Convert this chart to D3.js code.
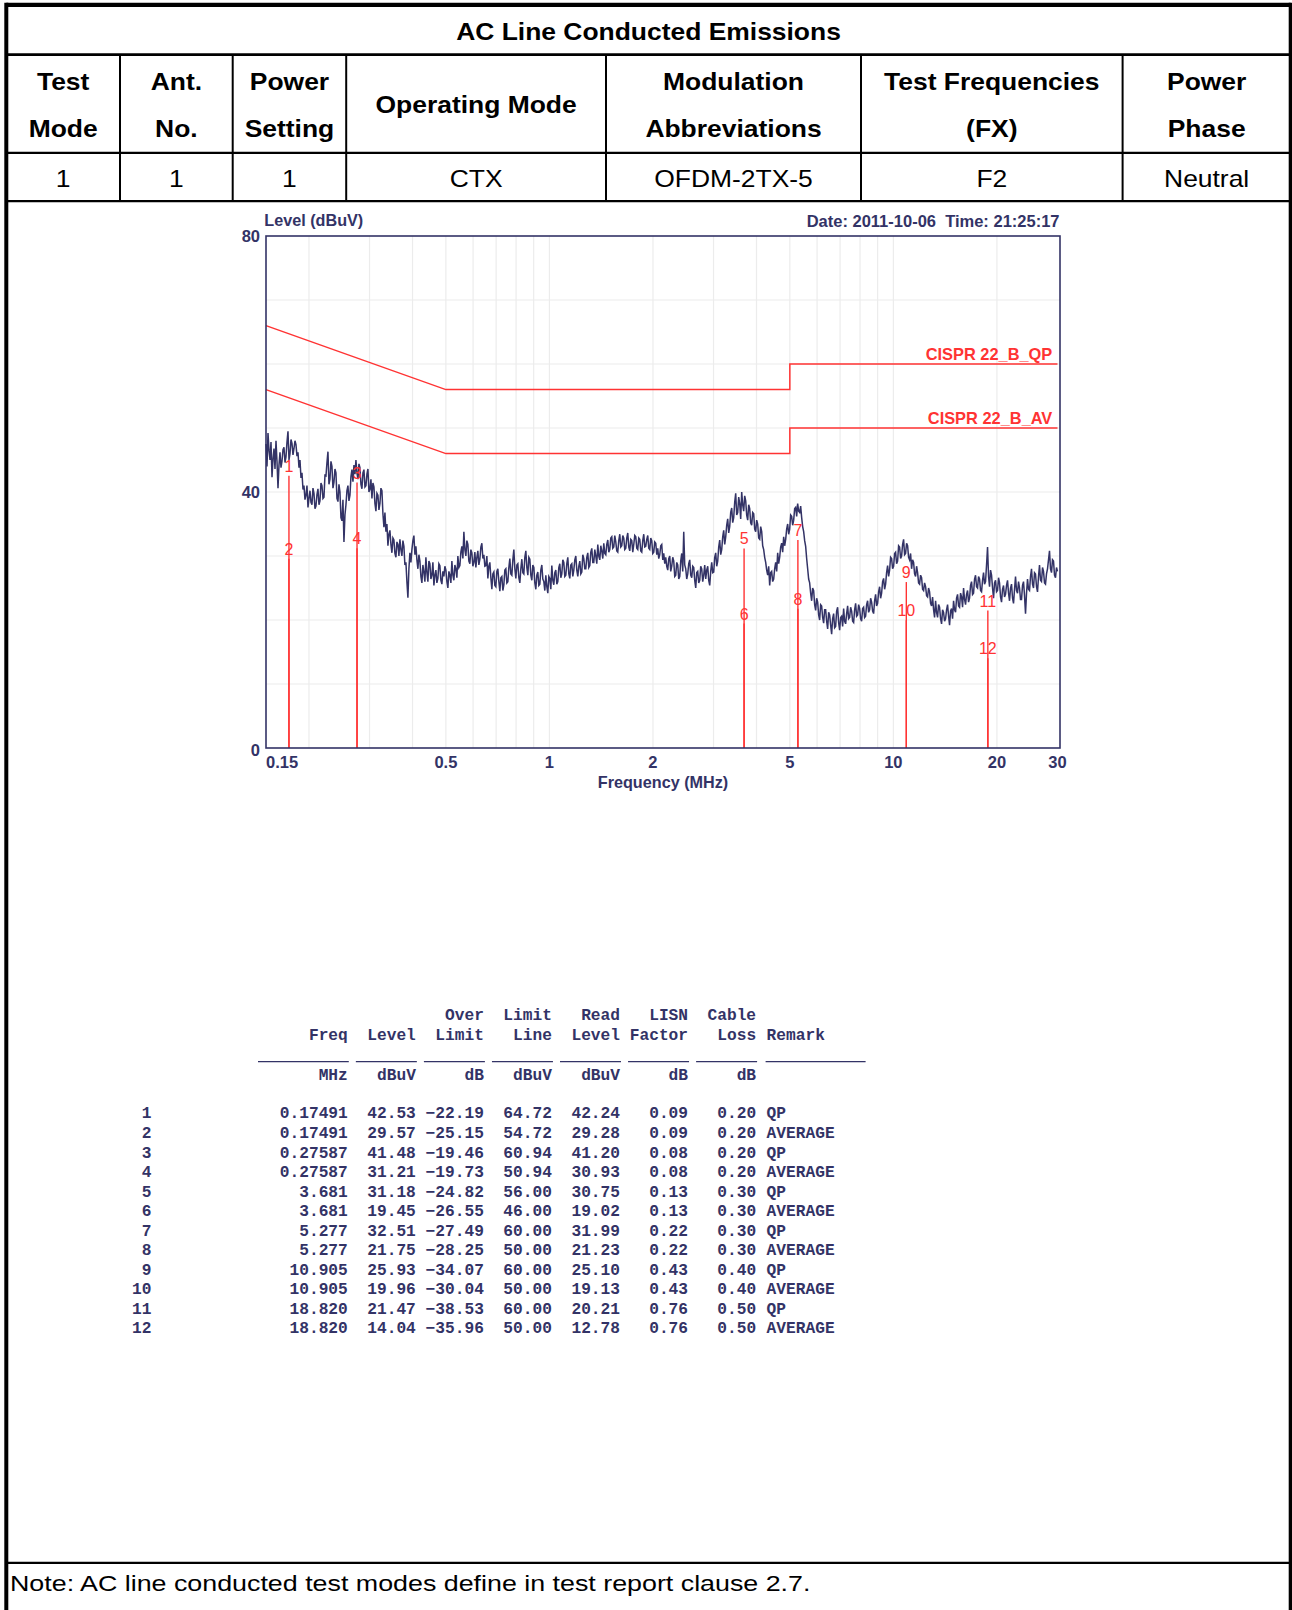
<!DOCTYPE html>
<html>
<head>
<meta charset="utf-8">
<script src="https://cdn.jsdelivr.net/npm/d3@7"></script>
<style>
  html, body { margin: 0; padding: 0; background: #fff; }
  svg { display: block; }
  .pre { white-space: pre; }
</style>
</head>
<body>
<svg id="page" width="1292" height="1610"></svg>
<script>
// ---------- report header ----------
const reportTitle = "AC Line Conducted Emissions";
const headerCols = [["Test", "Mode"], ["Ant.", "No."], ["Power", "Setting"], ["Operating Mode"],
                    ["Modulation", "Abbreviations"], ["Test Frequencies", "(FX)"], ["Power", "Phase"]];
const headerValues = ["1", "1", "1", "CTX", "OFDM-2TX-5", "F2", "Neutral"];
const noteText = "Note: AC line conducted test modes define in test report clause 2.7.";

// ---------- scan plot ----------
const sweepStartMHz = 0.15;
const sweepStopMHz = 30;
// measured level (dBuV) at each log-spaced sweep point
const traceLevels = [
  47.5, 44.0, 49.2, 46.5, 45.0, 47.8, 42.3, 45.2, 46.8, 43.6, 48.0, 44.8, 40.6, 44.2, 46.2, 43.8, 44.8, 46.6, 47.0, 44.6,
  45.5, 47.8, 49.5, 45.0, 46.0, 48.2, 47.6, 45.8, 46.8, 48.0, 47.4, 45.6, 46.2, 43.8, 45.0, 42.2, 43.0, 40.4, 41.0, 38.8,
  39.5, 41.0, 37.6, 39.0, 40.2, 38.4, 38.0, 40.6, 39.8, 37.4, 37.8, 39.6, 40.5, 38.0, 38.6, 41.4, 41.0, 39.0, 39.2, 42.6,
  42.5, 44.6, 46.3, 41.2, 42.0, 44.8, 44.0, 40.6, 41.5, 43.6, 43.0, 39.0, 38.5, 41.2, 40.0, 36.0, 35.5, 38.8, 32.2, 36.4,
  38.0, 40.2, 41.0, 38.6, 39.5, 42.4, 43.5, 41.6, 44.2, 42.8, 45.0, 43.0, 42.0, 44.4, 43.8, 41.2, 40.5, 43.0, 43.5, 40.8,
  41.0, 42.8, 43.6, 40.0, 40.4, 42.0, 39.0, 41.4, 40.8, 38.2, 37.0, 39.8, 39.5, 37.2, 38.2, 40.6, 40.2, 36.6, 34.5, 36.8,
  33.8, 35.0, 31.6, 33.4, 34.0, 31.8, 30.5, 32.8, 32.5, 30.4, 29.8, 32.2, 31.8, 30.0, 32.6, 31.0, 30.0, 32.4, 31.5, 28.6,
  29.0, 26.0, 23.5, 28.0, 30.5, 29.0, 31.0, 32.4, 33.2, 30.2, 31.5, 29.4, 28.0, 30.2, 29.2, 26.8, 25.8, 28.6, 27.5, 26.0,
  29.8, 27.4, 26.0, 29.2, 28.8, 26.4, 27.0, 29.0, 25.4, 27.0, 27.8, 25.8, 26.5, 28.8, 28.5, 26.2, 25.6, 27.6, 26.8, 28.4,
  27.8, 26.0, 25.0, 27.6, 27.0, 25.8, 29.2, 27.0, 26.2, 28.6, 28.0, 26.6, 30.0, 28.2, 28.5, 30.6, 31.5, 29.6, 33.8, 31.0,
  30.0, 32.4, 31.8, 29.2, 28.8, 31.0, 30.5, 28.4, 29.0, 30.6, 28.2, 29.8, 30.8, 28.6, 29.5, 31.4, 32.0, 29.6, 30.2, 28.4,
  28.5, 30.0, 26.5, 28.4, 29.0, 26.6, 24.8, 27.2, 27.5, 25.4, 25.2, 27.6, 28.0, 26.0, 24.5, 26.6, 26.8, 24.6, 25.5, 27.8,
  28.0, 25.8, 26.0, 28.2, 29.6, 27.2, 27.0, 29.4, 31.0, 28.0, 26.5, 28.6, 28.8, 26.6, 25.8, 28.0, 29.5, 27.4, 27.2, 29.8,
  30.8, 28.2, 27.0, 29.8, 29.5, 27.0, 26.2, 28.6, 28.2, 25.8, 24.8, 27.0, 27.5, 25.4, 25.6, 27.8, 28.6, 26.4, 26.0, 24.6,
  27.0, 25.2, 24.2, 26.8, 26.5, 24.8, 28.5, 26.2, 25.5, 27.4, 27.8, 25.6, 26.0, 28.2, 28.8, 26.6, 27.2, 29.4, 29.0, 26.8,
  27.0, 28.8, 29.8, 27.2, 26.5, 28.6, 28.8, 26.8, 27.8, 29.4, 30.0, 27.8, 26.8, 28.4, 29.2, 27.2, 27.5, 30.2, 29.6, 28.0,
  28.0, 29.8, 30.5, 28.2, 28.5, 30.6, 31.2, 29.0, 29.0, 31.0, 30.0, 28.8, 31.8, 30.0, 29.4, 31.6, 30.8, 29.6, 32.0, 30.4,
  30.2, 31.8, 32.5, 30.6, 31.0, 32.8, 33.0, 31.2, 31.4, 33.2, 32.2, 30.8, 30.6, 32.4, 33.4, 31.4, 31.6, 33.2, 32.8, 31.0,
  31.2, 32.8, 33.6, 31.4, 30.8, 32.6, 32.4, 30.6, 31.8, 33.2, 33.0, 31.2, 31.0, 32.8, 32.6, 30.8, 30.6, 32.4, 33.4, 31.4,
  31.5, 32.6, 33.2, 31.2, 31.0, 32.8, 32.4, 30.4, 30.6, 32.2, 32.0, 30.2, 31.2, 29.6, 30.2, 31.6, 31.8, 29.4, 30.4, 28.8,
  29.8, 28.4, 27.8, 29.6, 30.0, 27.6, 28.4, 29.8, 29.2, 26.8, 27.0, 29.0, 28.6, 26.4, 26.8, 29.2, 30.4, 27.6, 33.8, 28.6,
  28.0, 26.4, 27.2, 28.8, 29.4, 27.0, 26.6, 28.4, 28.2, 26.2, 25.0, 27.4, 27.6, 25.8, 26.2, 28.4, 28.0, 26.0, 27.0, 28.6,
  26.4, 27.8, 28.4, 26.2, 25.4, 27.6, 29.0, 27.4, 27.5, 29.8, 30.5, 28.4, 29.2, 31.4, 32.5, 30.2, 31.0, 33.0, 34.0, 31.8,
  33.0, 34.8, 35.8, 33.6, 34.6, 36.8, 37.5, 35.2, 36.0, 38.4, 39.8, 36.4, 36.8, 39.2, 38.2, 35.8, 40.0, 38.0, 37.0, 39.4,
  38.6, 36.4, 35.6, 38.0, 37.4, 35.2, 34.8, 36.8, 36.6, 34.2, 33.8, 35.6, 35.0, 32.8, 32.6, 34.6, 33.8, 31.6, 31.0, 29.8,
  29.0, 27.8, 27.0, 28.4, 25.4, 27.4, 27.6, 26.0, 26.4, 28.0, 29.0, 27.6, 30.5, 28.8, 29.8, 31.4, 32.0, 30.6, 33.0, 31.6,
  32.6, 34.2, 35.0, 33.4, 34.2, 36.4, 36.2, 34.8, 35.6, 37.4, 37.6, 36.2, 38.2, 37.0, 36.8, 37.8, 36.0, 34.6, 33.8, 32.4,
  31.5, 29.6, 28.0, 26.4, 25.8, 24.2, 23.0, 25.0, 24.6, 22.4, 21.5, 23.4, 22.8, 20.8, 20.0, 22.4, 22.2, 20.4, 19.5, 21.6,
  21.6, 19.8, 18.6, 21.2, 20.8, 19.2, 17.8, 20.2, 21.0, 18.8, 19.0, 21.4, 22.0, 19.6, 18.4, 20.4, 20.6, 19.0, 21.8, 19.8,
  19.4, 21.0, 22.2, 20.2, 20.4, 22.0, 21.4, 19.8, 19.6, 21.6, 22.6, 20.6, 20.8, 22.4, 21.8, 20.2, 19.8, 21.8, 22.0, 20.4,
  20.6, 22.4, 23.0, 21.2, 21.6, 23.4, 22.8, 21.4, 21.0, 23.0, 24.0, 22.2, 22.6, 24.4, 25.2, 23.4, 24.2, 26.0, 26.5, 24.8,
  25.6, 27.4, 28.5, 26.8, 27.8, 29.8, 29.6, 28.0, 28.4, 30.4, 30.6, 28.8, 29.2, 31.6, 31.4, 29.6, 30.0, 31.8, 32.6, 30.2,
  30.4, 32.0, 31.6, 29.8, 29.4, 30.4, 28.0, 29.4, 29.0, 27.2, 26.8, 28.4, 27.4, 25.8, 25.6, 27.0, 26.6, 24.8, 24.6, 25.8,
  25.2, 23.8, 23.6, 25.0, 24.4, 22.6, 22.2, 23.6, 21.6, 20.4, 23.0, 21.2, 20.4, 22.4, 22.0, 20.2, 19.4, 21.6, 21.2, 19.8,
  20.2, 21.6, 22.4, 20.6, 19.2, 21.4, 21.8, 20.2, 23.0, 21.6, 21.2, 23.4, 24.0, 22.2, 22.0, 24.2, 23.6, 22.0, 25.0, 23.2,
  22.4, 24.0, 24.6, 22.8, 23.4, 25.4, 26.0, 24.0, 24.2, 26.4, 27.0, 25.2, 25.0, 26.8, 26.4, 24.6, 24.4, 26.2, 27.4, 25.6,
  26.0, 28.6, 31.4, 26.8, 25.2, 27.8, 27.0, 25.0, 23.4, 25.8, 26.2, 24.4, 24.6, 26.6, 25.8, 23.6, 22.8, 24.8, 25.4, 23.6,
  24.0, 25.4, 26.2, 24.2, 23.0, 25.0, 25.6, 23.4, 22.6, 24.8, 26.8, 24.6, 24.2, 26.0, 25.0, 23.2, 23.2, 25.4, 26.0, 23.8,
  21.0, 24.2, 26.4, 24.8, 24.6, 26.8, 28.0, 25.6, 25.0, 27.4, 27.2, 25.2, 24.4, 26.8, 28.6, 26.2, 26.0, 28.2, 27.6, 25.8,
  25.6, 27.2, 28.0, 29.4, 30.8, 28.0, 27.4, 29.4, 29.2, 27.0, 26.6, 28.2, 27.6
];

// CISPR 22 class B limits (corner frequencies in MHz, limits in dBuV)
const limitFreqs = [0.15, 0.5, 5, 5, 30];
const limitQP = [66, 56, 56, 60, 60];
const limitAV = [56, 46, 46, 50, 50];
const limitNames = ["CISPR 22_B_QP", "CISPR 22_B_AV"];

const xTickValues = [0.15, 0.5, 1, 2, 5, 10, 20, 30];
const xTickLabels = ["0.15", "0.5", "1", "2", "5", "10", "20", "30"];
const yTickValues = [0, 40, 80];
const scanDate = "Date: 2011-10-06  Time: 21:25:17";

// ---------- final measurement table ----------
const markerNo = [1, 2, 3, 4, 5, 6, 7, 8, 9, 10, 11, 12];
const markerFreq = ["0.17491", "0.17491", "0.27587", "0.27587", "3.681", "3.681",
                    "5.277", "5.277", "10.905", "10.905", "18.820", "18.820"];
const markerLevel = [42.53, 29.57, 41.48, 31.21, 31.18, 19.45, 32.51, 21.75, 25.93, 19.96, 21.47, 14.04];
const overLimit = [-22.19, -25.15, -19.46, -19.73, -24.82, -26.55, -27.49, -28.25, -34.07, -30.04, -38.53, -35.96];
const limitLine = [64.72, 54.72, 60.94, 50.94, 56.00, 46.00, 60.00, 50.00, 60.00, 50.00, 60.00, 50.00];
const readLevel = [42.24, 29.28, 41.20, 30.93, 30.75, 19.02, 31.99, 21.23, 25.10, 19.13, 20.21, 12.78];
const lisnFactor = [0.09, 0.09, 0.08, 0.08, 0.13, 0.13, 0.22, 0.22, 0.43, 0.43, 0.76, 0.76];
const cableLoss = [0.20, 0.20, 0.20, 0.20, 0.30, 0.30, 0.30, 0.30, 0.40, 0.40, 0.50, 0.50];
const remark = ["QP", "AVERAGE", "QP", "AVERAGE", "QP", "AVERAGE", "QP", "AVERAGE", "QP", "AVERAGE", "QP", "AVERAGE"];
const tableHead1 = ["", "", "Over", "Limit", "Read", "LISN", "Cable"];
const tableHead2 = ["Freq", "Level", "Limit", "Line", "Level", "Factor", "Loss"];
const tableUnits = ["MHz", "dBuV", "dB", "dBuV", "dBuV", "dB", "dB"];

// =====================================================================
const svg = d3.select("#page");
const INK = "#000";
const NAVY = "#333366";
const RED = "#ff3333";
const SANS = "'Liberation Sans', Arial, sans-serif";
const MONO = "'Liberation Mono', 'Courier New', monospace";

// stretched text helper (the report typeface runs wide)
function wideText(parent, x, y, str, o) {
  const g = parent.append("g").attr("transform", `translate(${x},${y}) scale(${o.sx || 1},1)`);
  return g.append("text")
    .attr("x", 0).attr("y", 0)
    .attr("text-anchor", o.anchor || "middle")
    .attr("font-family", SANS)
    .attr("font-size", o.size)
    .attr("font-weight", o.weight || "normal")
    .attr("fill", o.fill || INK)
    .text(str);
}

// ---------- header table frame ----------
const T = { left: 6.3, right: 1290.7, top: 4.8, r1: 54.7, r2: 152.8, r3: 201.2, note: 1562.8, bottom: 1612 };
const colX = [T.left, 120, 232.7, 346.2, 606, 861, 1122.6, T.right];
const frame = svg.append("g").attr("stroke", INK).attr("fill", "none");
frame.append("line").attr("x1", T.left).attr("x2", T.left).attr("y1", 2.8).attr("y2", T.bottom).attr("stroke-width", 4);
frame.append("line").attr("x1", T.right).attr("x2", T.right).attr("y1", 2.8).attr("y2", T.bottom).attr("stroke-width", 4);
frame.append("line").attr("x1", T.left).attr("x2", T.right).attr("y1", T.top).attr("y2", T.top).attr("stroke-width", 4.2);
frame.append("line").attr("x1", T.left).attr("x2", T.right).attr("y1", T.r1).attr("y2", T.r1).attr("stroke-width", 2.7);
frame.append("line").attr("x1", T.left).attr("x2", T.right).attr("y1", T.r2).attr("y2", T.r2).attr("stroke-width", 2.3);
frame.append("line").attr("x1", T.left).attr("x2", T.right).attr("y1", T.r3).attr("y2", T.r3).attr("stroke-width", 2.3);
frame.append("line").attr("x1", T.left).attr("x2", T.right).attr("y1", T.note).attr("y2", T.note).attr("stroke-width", 2.3);
colX.slice(1, -1).forEach(cx => {
  frame.append("line").attr("x1", cx).attr("x2", cx).attr("y1", T.r1).attr("y2", T.r3).attr("stroke-width", 2);
});

const hdr = svg.append("g");
wideText(hdr, (T.left + T.right) / 2, 40, reportTitle, { size: 23, sx: 1.15, weight: "bold" });
headerCols.forEach((lines, i) => {
  const cx = (colX[i] + colX[i + 1]) / 2;
  if (lines.length === 2) {
    wideText(hdr, cx, 90, lines[0], { size: 23, sx: 1.15, weight: "bold" });
    wideText(hdr, cx, 137.3, lines[1], { size: 23, sx: 1.15, weight: "bold" });
  } else {
    wideText(hdr, cx, 113, lines[0], { size: 23, sx: 1.15, weight: "bold" });
  }
  wideText(hdr, cx, 186.7, headerValues[i], { size: 23, sx: 1.15 });
});
wideText(hdr, 10, 1591, noteText, { size: 22, sx: 1.22, anchor: "start" });

// ---------- scan plot ----------
const x = d3.scaleLog().domain([sweepStartMHz, sweepStopMHz]).range([266, 1057.5]);
const y = d3.scaleLinear().domain([0, 80]).range([748, 236]);
const plot = svg.append("g");

// grid
plot.append("g").selectAll("line").data(x.ticks().filter(f => f > sweepStartMHz && f < sweepStopMHz))
  .join("line").attr("x1", d => x(d)).attr("x2", d => x(d)).attr("y1", y(0)).attr("y2", y(80))
  .attr("stroke", "#ececec").attr("stroke-width", 1.2);
plot.append("g").selectAll("line").data(d3.range(10, 80, 10))
  .join("line").attr("x1", 266).attr("x2", 1060).attr("y1", d => y(d)).attr("y2", d => y(d))
  .attr("stroke", "#ececec").attr("stroke-width", 1.2);

// limit lines
const limitLineGen = d3.line().x(d => x(d[0])).y(d => y(d[1]));
[limitQP, limitAV].forEach((lim, k) => {
  const pts = limitFreqs.map((f, i) => [f, lim[i]]);
  plot.append("path").attr("d", limitLineGen(pts)).attr("fill", "none")
    .attr("stroke", RED).attr("stroke-width", 1.5);
  plot.append("text").attr("x", 1052.3).attr("y", y(lim[lim.length - 1]) - 4)
    .attr("text-anchor", "end").attr("font-family", SANS).attr("font-size", 16.4)
    .attr("font-weight", "bold").attr("fill", RED).text(limitNames[k]);
});

// trace
const nPts = traceLevels.length;
const sweepFreq = i => sweepStartMHz * Math.pow(sweepStopMHz / sweepStartMHz, i / (nPts - 1));
plot.append("path")
  .attr("d", d3.line().x((d, i) => x(sweepFreq(i))).y(d => y(d))(traceLevels))
  .attr("fill", "none").attr("stroke", NAVY).attr("stroke-width", 1.5).attr("stroke-linejoin", "miter");

// markers
const mk = plot.append("g");
markerNo.forEach((n, i) => {
  const mx = x(+markerFreq[i]);
  mk.append("line").attr("x1", mx).attr("x2", mx).attr("y1", y(0)).attr("y2", y(markerLevel[i]))
    .attr("stroke", RED).attr("stroke-width", 1.4);
  mk.append("text").attr("x", mx).attr("y", y(markerLevel[i]) - 4).attr("text-anchor", "middle")
    .attr("font-family", SANS).attr("font-size", 16).attr("fill", RED).text(n);
});

// frame and labels
plot.append("rect").attr("x", 266).attr("y", 236).attr("width", 794).attr("height", 512)
  .attr("fill", "none").attr("stroke", NAVY).attr("stroke-width", 1.6);

const lab = plot.append("g").attr("font-family", SANS).attr("font-weight", "bold").attr("fill", NAVY).attr("font-size", 16.5);
yTickValues.forEach(v => {
  lab.append("text").attr("x", 260).attr("y", y(v) + (v === 0 ? 8 : 6)).attr("text-anchor", "end").text(v);
});
xTickValues.forEach((v, i) => {
  lab.append("text").attr("x", x(v)).attr("y", 768.3)
    .attr("text-anchor", i === 0 ? "start" : "middle").text(xTickLabels[i]);
});
lab.append("text").attr("x", 264.3).attr("y", 226).attr("font-size", 16.2).text("Level (dBuV)");
lab.append("text").attr("x", 1059.5).attr("y", 226.5).attr("text-anchor", "end").attr("class", "pre")
  .attr("font-size", 16.5).text(scanDate);
lab.append("text").attr("x", 663).attr("y", 788).attr("text-anchor", "middle").attr("font-size", 16.2)
  .text("Frequency (MHz)");

// ---------- final measurement table ----------
const tb = svg.append("g").attr("font-family", MONO).attr("font-weight", "bold")
  .attr("font-size", 16.2).attr("fill", NAVY);
const colEnd = d3.range(7).map(k => 347.8 + k * 68.05);
const remarkX = colEnd[6] + 10.5;
tableHead1.forEach((t, k) => { if (t) tb.append("text").attr("x", colEnd[k]).attr("y", 1020).attr("text-anchor", "end").text(t); });
tableHead2.forEach((t, k) => tb.append("text").attr("x", colEnd[k]).attr("y", 1039.5).attr("text-anchor", "end").text(t));
tb.append("text").attr("x", remarkX).attr("y", 1039.5).text("Remark");
tableUnits.forEach((t, k) => tb.append("text").attr("x", colEnd[k]).attr("y", 1080).attr("text-anchor", "end").text(t));
const ul = svg.append("g").attr("stroke", NAVY).attr("stroke-width", 1.3);
colEnd.forEach((e, k) => {
  ul.append("line").attr("x1", k === 0 ? 258 : e - 60).attr("x2", e + 1).attr("y1", 1061.7).attr("y2", 1061.7);
});
ul.append("line").attr("x1", remarkX - 1).attr("x2", remarkX + 99).attr("y1", 1061.7).attr("y2", 1061.7);

const f2 = d3.format(".2f");
markerNo.forEach((n, i) => {
  const by = 1118.4 + i * 19.55;
  const cells = [markerFreq[i], f2(markerLevel[i]), f2(overLimit[i]), f2(limitLine[i]),
                 f2(readLevel[i]), f2(lisnFactor[i]), f2(cableLoss[i])];
  tb.append("text").attr("x", 151.5).attr("y", by).attr("text-anchor", "end").text(n);
  cells.forEach((c, k) => tb.append("text").attr("x", colEnd[k]).attr("y", by).attr("text-anchor", "end").text(c));
  tb.append("text").attr("x", remarkX).attr("y", by).text(remark[i]);
});
</script>
</body>
</html>
